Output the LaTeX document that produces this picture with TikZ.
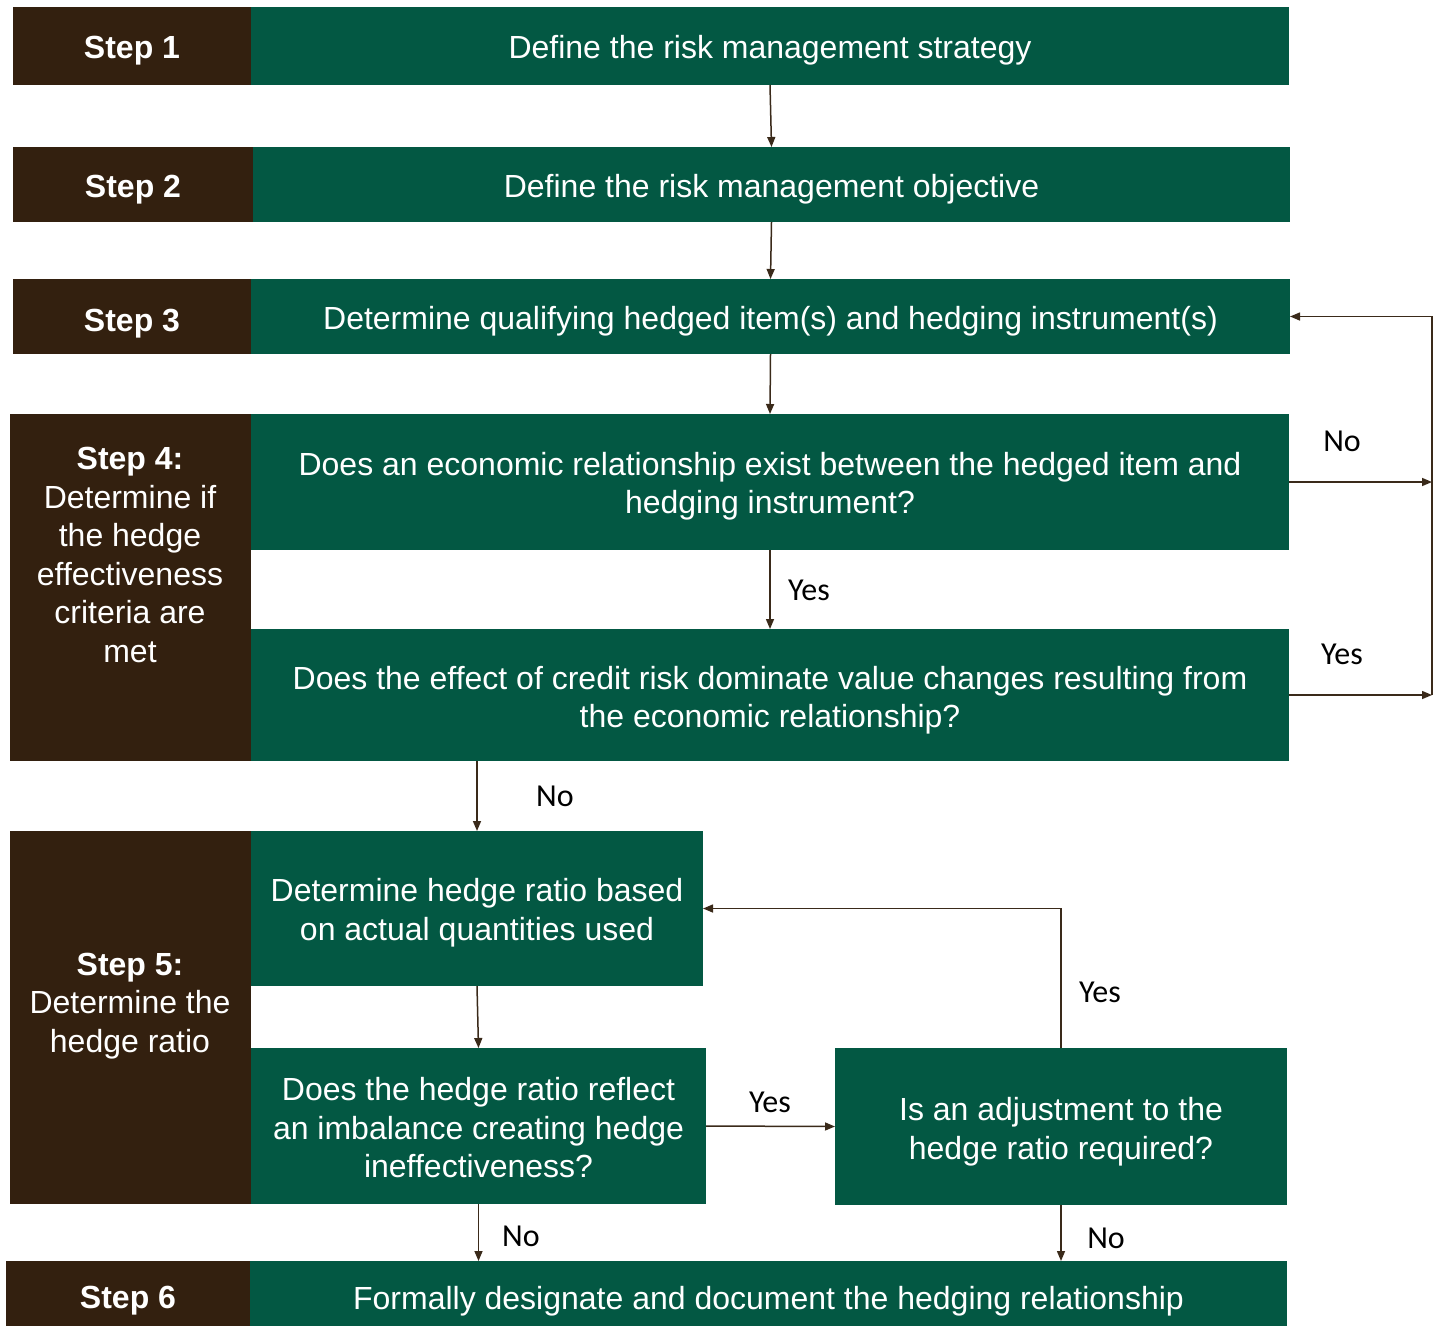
\documentclass[tikz,border=0pt]{standalone}
\usepackage{fontspec}
\setmainfont{Liberation Sans}
\newfontfamily\lbl{Carlito}
\usetikzlibrary{arrows.meta}
\definecolor{brn}{HTML}{33200F}
\definecolor{grn}{HTML}{035843}
\definecolor{ln}{HTML}{3A2A1A}
\begin{document}
\begin{tikzpicture}[x=1pt,y=-1pt,
  bx/.style={anchor=north west, inner sep=0pt, outer sep=0pt},
  gbox/.style={bx, fill=grn},
  bbox/.style={bx, fill=brn},
  txt/.style={text=white, align=center, inner sep=0pt, font=\fontsize{32}{38.5}\selectfont},
  btxt/.style={txt, font=\fontsize{32}{38.6}\selectfont\bfseries},
  arr/.style={draw=ln, line width=1.5pt, -{Triangle[length=10pt,width=8pt]}},
  lab/.style={font=\lbl\fontsize{32}{36}\selectfont, text=black, inner sep=0pt}]
\useasboundingbox (0,0) rectangle (1439,1326);
% Step 1
\node[bbox, minimum width=238, minimum height=78] (s1) at (13,7) {};
\node[btxt] (s1t) at ([yshift=-5pt]s1.center) {Step 1};
\node[gbox, minimum width=1038, minimum height=78] (g1) at (251,7) {};
\node[txt] (g1t) at ([yshift=-4pt]g1.center) {Define the risk management strategy};
% Step 2
\node[bbox, minimum width=240, minimum height=75] (s2) at (13,147) {};
\node[btxt] (s2t) at ([yshift=-5pt]s2.center) {Step 2};
\node[gbox, minimum width=1037, minimum height=75] (g2) at (253,147) {};
\node[txt] (g2t) at ([yshift=-5pt]g2.center) {Define the risk management objective};
% Step 3
\node[bbox, minimum width=238, minimum height=75] (s3) at (13,279) {};
\node[btxt] (s3t) at ([yshift=-7pt]s3.center) {Step 3};
\node[gbox, minimum width=1039, minimum height=75] (g3) at (251,279) {};
\node[txt] (g3t) at ([yshift=-5pt]g3.center) {Determine qualifying hedged item(s) and hedging instrument(s)};
% Step 4
\node[bbox, minimum width=241, minimum height=347] (s4) at (10,414) {};
\node[txt] (s4t) at (130,555) {\textbf{Step 4:}\\Determine if\\the hedge\\effectiveness\\criteria are\\met};
\node[gbox, minimum width=1038, minimum height=136] (g4a) at (251,414) {};
\node[txt] (g4at) at ([yshift=-4pt]g4a.center) {Does an economic relationship exist between the hedged item and\\hedging instrument?};
\node[gbox, minimum width=1038, minimum height=132] (g4b) at (251,629) {};
\node[txt] (g4bt) at ([yshift=-5pt]g4b.center) {Does the effect of credit risk dominate value changes resulting from\\the economic relationship?};
% Step 5
\node[bbox, minimum width=241, minimum height=373] (s5) at (10,831) {};
\node[txt] (s5t) at (130,1006) {\textbf{Step 5:}\\Determine the\\hedge ratio};
\node[gbox, minimum width=452, minimum height=155] (ga) at (251,831) {};
\node[txt] (gat) at ([yshift=-4pt]ga.center) {Determine hedge ratio based\\on actual quantities used};
\node[gbox, minimum width=455, minimum height=156] (gb) at (251,1048) {};
\node[txt] (gbt) at ([yshift=-2pt]gb.center) {Does the hedge ratio reflect\\an imbalance creating hedge\\ineffectiveness?};
\node[gbox, minimum width=452, minimum height=157] (gc) at (835,1048) {};
\node[txt] (gct) at ([yshift=-5pt]gc.center) {Is an adjustment to the\\hedge ratio required?};
% Step 6
\node[bbox, minimum width=244, minimum height=65] (s6) at (6,1261) {};
\node[btxt] (s6t) at ([yshift=-7pt]s6.center) {Step 6};
\node[gbox, minimum width=1037, minimum height=65] (g6) at (250,1261) {};
\node[txt] (g6t) at ([yshift=-8pt]g6.center) {Formally designate and document the hedging relationship};
% connectors
\coordinate (r) at (1432,0);
\draw[arr] (g1.south) -- (g2.north);
\draw[arr] (g2.south) -- (g3.north);
\draw[arr] (g3.south) -- (g4a.north);
\draw[arr] (g4a.south) -- (g4b.north);
\draw[arr] (g4a.east) -- (g4a.east -| r);
\draw[arr] (g4b.east) -- (g4b.east -| r);
\draw[arr] (g4b.east -| r) -- (g3.east -| r) -- (g3.east);
\draw[arr] (g4b.south -| ga.north) -- (ga.north);
\draw[arr] (ga.south) -- (gb.north);
\draw[arr] (gb.east) -- (gc.west);
\draw[arr] (gc.north) -- (gc.north |- ga.east) -- (ga.east);
\draw[arr] (gb.south) -- (gb.south |- g6.north);
\draw[arr] (gc.south) -- (gc.south |- g6.north);
% labels
\node[lab] (l1) at (809,590) {Yes};
\node[lab] (l2) at (1342,441) {No};
\node[lab] (l3) at (1342,654) {Yes};
\node[lab] (l4) at (555,796) {No};
\node[lab] (l5) at (770,1102) {Yes};
\node[lab] (l6) at (1100,992) {Yes};
\node[lab] (l7) at (521,1236) {No};
\node[lab] (l8) at (1106,1238) {No};
\end{tikzpicture}
\end{document}
